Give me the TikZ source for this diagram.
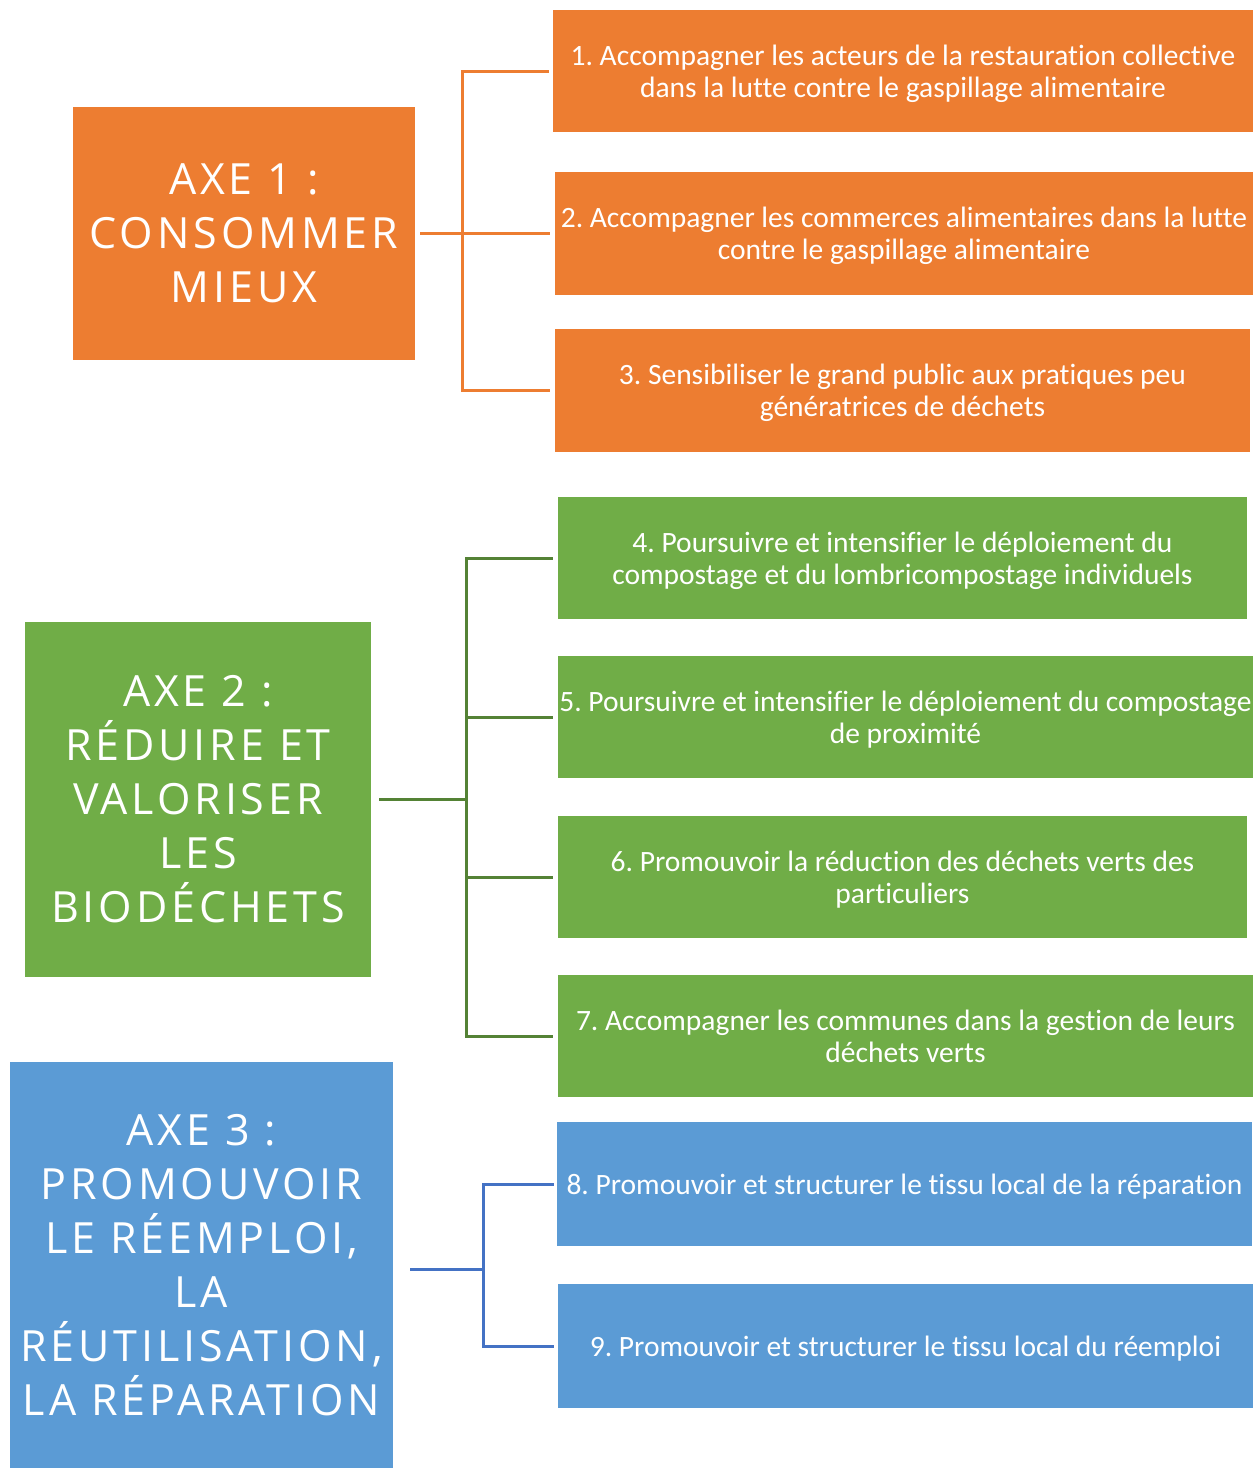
\documentclass[tikz,border=0pt]{standalone}
\usepackage{fontspec}
\setmainfont[Ligatures=NoCommon]{Carlito}
\newfontfamily\titlefont[LetterSpace=9]{Open Sans}
\frenchspacing
\definecolor{orfill}{HTML}{ED7D31}
\definecolor{grfill}{HTML}{70AD47}
\definecolor{grline}{HTML}{548235}
\definecolor{blfill}{HTML}{5B9BD5}
\definecolor{blline}{HTML}{4472C4}
\newcommand{\lowtext}[1]{\raisebox{-4pt}[\height][\depth]{\begin{tabular}{@{}c@{}}#1\end{tabular}}}
\tikzset{
  base/.style={inner sep=0pt, outer sep=0pt, text=white, align=center},
  item/.style={base, font=\fontsize{29.5}{32}\selectfont},
  axis/.style={base, font=\titlefont\fontsize{43}{54}\selectfont},
  obox/.style={fill=orfill},
  gbox/.style={fill=grfill},
  bbox/.style={fill=blfill},
  oline/.style={draw=orfill, line width=3pt},
  gline/.style={draw=grline, line width=3pt},
  bline/.style={draw=blline, line width=3pt},
}
\begin{document}
\begin{tikzpicture}[x=1pt,y=-1pt]
\useasboundingbox[fill=white] (0,0) rectangle (1256,1468);
% Axe 1
\node[axis, obox, minimum width=342pt, minimum height=253pt] (a1) at (244,233.5)
  {AXE 1 :\\CONSOMMER\\MIEUX};
\node[item, obox, minimum width=700pt, minimum height=122pt] (b1) at (903,71)
  {\lowtext{1. Accompagner les acteurs de la restauration collective\\dans la lutte contre le gaspillage alimentaire}};
\node[item, obox, minimum width=698pt, minimum height=123pt] (b2) at (904,233.5)
  {\lowtext{2. Accompagner les commerces alimentaires dans la lutte\\contre le gaspillage alimentaire}};
\node[item, obox, minimum width=695pt, minimum height=123pt] (b3) at (902.5,390.5)
  {\lowtext{3. Sensibiliser le grand public aux pratiques peu\\génératrices de déchets}};
\coordinate (j1) at (462,233.5);
\draw[oline, shorten <=5pt] (a1.east) -- (j1);
\draw[oline, shorten >=4pt] (j1) |- (b1.west);
\draw[oline, shorten >=5pt] (j1) -- (b2.west);
\draw[oline, shorten >=5pt] (j1) |- (b3.west);
% Axe 2
\node[axis, gbox, minimum width=346pt, minimum height=355pt] (a2) at (198,799.5)
  {AXE 2 :\\RÉDUIRE ET\\VALORISER\\LES\\BIODÉCHETS};
\node[item, gbox, minimum width=689pt, minimum height=122pt] (b4) at (902.5,558)
  {\lowtext{4. Poursuivre et intensifier le déploiement du\\compostage et du lombricompostage individuels}};
\node[item, gbox, minimum width=695pt, minimum height=122pt] (b5) at (905.5,717)
  {\lowtext{5. Poursuivre et intensifier le déploiement du compostage\\de proximité}};
\node[item, gbox, minimum width=689pt, minimum height=122pt] (b6) at (902.5,877)
  {\lowtext{6. Promouvoir la réduction des déchets verts des\\particuliers}};
\node[item, gbox, minimum width=695pt, minimum height=122pt] (b7) at (905.5,1036)
  {\lowtext{7. Accompagner les communes dans la gestion de leurs\\déchets verts}};
\coordinate (j2) at (466,799.5);
\draw[gline, shorten <=8pt] (a2.east) -- (j2);
\draw[gline, shorten >=5pt] (j2) |- (b4.west);
\draw[gline, shorten >=5pt] (j2) |- (b5.west);
\draw[gline, shorten >=5pt] (j2) |- (b6.west);
\draw[gline, shorten >=5pt] (j2) |- (b7.west);
% Axe 3
\node[axis, bbox, minimum width=383pt, minimum height=406pt] (a3) at (201.5,1265)
  {AXE 3 :\\PROMOUVOIR\\LE RÉEMPLOI,\\LA\\RÉUTILISATION,\\LA RÉPARATION};
\node[item, bbox, minimum width=695pt, minimum height=124pt] (b8) at (904.5,1184)
  {\lowtext{8. Promouvoir et structurer le tissu local de la réparation}};
\node[item, bbox, minimum width=695pt, minimum height=124pt] (b9) at (905.5,1346)
  {\lowtext{9. Promouvoir et structurer le tissu local du réemploi}};
\coordinate (j3) at (483,1269);
\draw[bline, shorten <=17pt] (a3.east |- j3) -- (j3);
\draw[bline, shorten >=3pt] (j3) |- (b8.west);
\draw[bline, shorten >=4pt] (j3) |- (b9.west);
\end{tikzpicture}
\end{document}
